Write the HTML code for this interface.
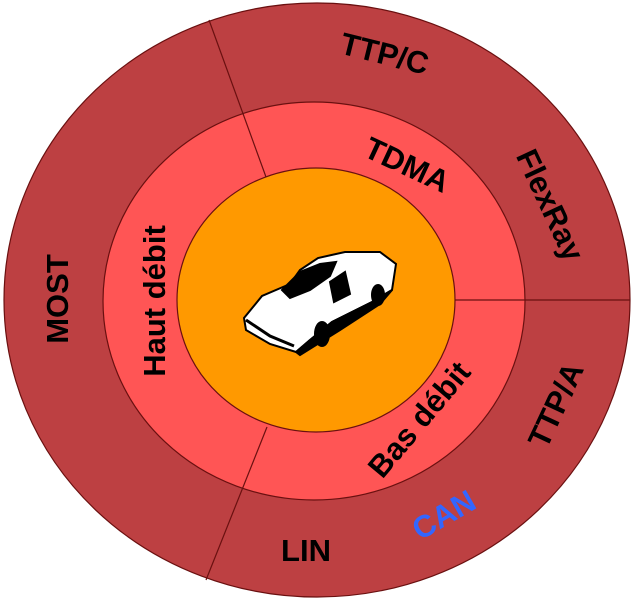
<!DOCTYPE html>
<html><head><style>
html,body{margin:0;padding:0;background:#fff;}
svg{display:block;}
text{font-family:"Liberation Sans",sans-serif;font-weight:bold;font-size:31px;fill:#000;}
</style></head><body>
<svg width="632" height="602" viewBox="0 0 632 602">
<ellipse cx="317" cy="300" rx="313" ry="297" fill="#BD4042" stroke="#6a1010" stroke-width="1.2"/>
<ellipse cx="314" cy="301" rx="211" ry="199" fill="#FF5555" stroke="#6a1010" stroke-width="1.2"/>
<ellipse cx="316" cy="300" rx="139" ry="132" fill="#FF9900" stroke="#6a1010" stroke-width="1.2"/>
<g stroke="#6a1010" stroke-width="1.2" fill="none">
<line x1="209" y1="20" x2="266" y2="177"/>
<line x1="455" y1="300" x2="630" y2="300"/>
<line x1="267" y1="427" x2="206" y2="580"/>
</g>
<text transform="translate(384,56) rotate(14)" text-anchor="middle" dominant-baseline="middle">TTP/C</text>
<text transform="translate(406,167) rotate(25)" text-anchor="middle" dominant-baseline="middle">TDMA</text>
<text transform="translate(548,206) rotate(65)" text-anchor="middle" dominant-baseline="middle">FlexRay</text>
<text transform="translate(60,299) rotate(-90)" text-anchor="middle" dominant-baseline="middle">MOST</text>
<text transform="translate(157,301) rotate(-90)" text-anchor="middle" dominant-baseline="middle">Haut débit</text>
<text transform="translate(421,421) rotate(-50)" text-anchor="middle" dominant-baseline="middle">Bas débit</text>
<text transform="translate(558,406) rotate(-65)" text-anchor="middle" dominant-baseline="middle">TTP/A</text>
<text transform="translate(445,517) rotate(-30)" text-anchor="middle" dominant-baseline="middle" style="fill:#3366FF">CAN</text>
<text x="306" y="553" text-anchor="middle" dominant-baseline="middle">LIN</text>
<g stroke="#000" stroke-width="2">
<path d="M244,318 L262,296 L290,284 L300,270 L318,258 L345,252 L380,252 L396,264 L392,290 L372,302 L332,322 L310,340 L296,352 L270,344 L246,330 Z" fill="#fff"/>
<path d="M282,290 L300,272 L320,264 L336,262 L330,276 L310,290 L290,298 Z" fill="#000"/>
<path d="M330,282 L345,272 L350,294 L334,302 Z" fill="#000"/>
<path d="M296,352 L310,340 L332,322 L372,302 L392,290 L380,304 L340,330 L300,355 Z" fill="#000"/>
<ellipse cx="322" cy="334" rx="7" ry="12" fill="#000"/>
<ellipse cx="378" cy="295" rx="6" ry="10" fill="#000"/>
<path d="M246,320 L270,336 L294,346" fill="none" stroke-width="3"/>
</g>
</svg>
</body></html>
